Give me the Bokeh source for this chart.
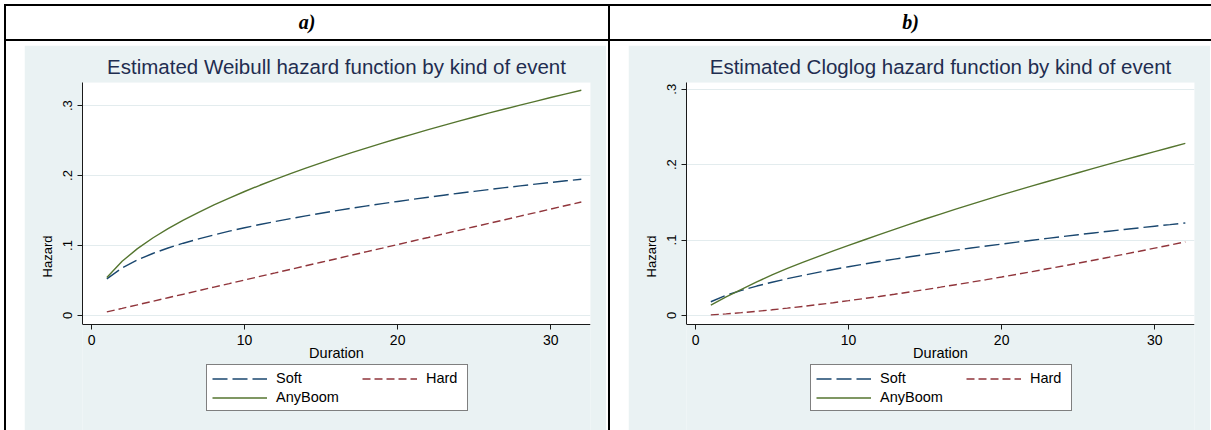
from bokeh.plotting import figure
from bokeh.models import Div, Legend, LegendItem, FixedTicker, Range1d, BoxAnnotation
from bokeh.layouts import column, row
from bokeh.embed import file_html
from bokeh.resources import INLINE

# ---------------- data ----------------
duration = list(range(1, 33))

weibull_soft = [0.0524, 0.0681, 0.0795, 0.0886, 0.0964, 0.1033, 0.1095, 0.1152, 0.1205, 0.1254,
                0.1300, 0.1343, 0.1385, 0.1424, 0.1462, 0.1498, 0.1533, 0.1567, 0.1599, 0.1630,
                0.1661, 0.1690, 0.1719, 0.1747, 0.1774, 0.1801, 0.1827, 0.1852, 0.1877, 0.1901,
                0.1925, 0.1948]
weibull_hard = [0.0051, 0.0101, 0.0152, 0.0203, 0.0254, 0.0304, 0.0355, 0.0406, 0.0456, 0.0507,
                0.0558, 0.0608, 0.0659, 0.0710, 0.0761, 0.0811, 0.0862, 0.0913, 0.0963, 0.1014,
                0.1065, 0.1115, 0.1166, 0.1217, 0.1268, 0.1318, 0.1369, 0.1420, 0.1470, 0.1521,
                0.1572, 0.1622]
weibull_anyboom = [0.0543, 0.0775, 0.0955, 0.1107, 0.1241, 0.1363, 0.1475, 0.1580, 0.1678, 0.1772,
                   0.1861, 0.1946, 0.2027, 0.2106, 0.2182, 0.2256, 0.2327, 0.2396, 0.2464, 0.2530,
                   0.2593, 0.2656, 0.2718, 0.2778, 0.2837, 0.2895, 0.2951, 0.3006, 0.3061, 0.3115,
                   0.3168, 0.3220]

cloglog_soft = [0.0182, 0.0267, 0.0333, 0.0390, 0.0441, 0.0488, 0.0531, 0.0572, 0.0610, 0.0646,
                0.0681, 0.0715, 0.0747, 0.0778, 0.0808, 0.0837, 0.0866, 0.0894, 0.0921, 0.0947,
                0.0973, 0.0998, 0.1023, 0.1047, 0.1071, 0.1094, 0.1117, 0.1140, 0.1162, 0.1184,
                0.1205, 0.1227]
cloglog_hard = [0.0008, 0.0021, 0.0037, 0.0055, 0.0075, 0.0097, 0.0120, 0.0144, 0.0169, 0.0196,
                0.0224, 0.0252, 0.0281, 0.0312, 0.0343, 0.0375, 0.0408, 0.0441, 0.0475, 0.0510,
                0.0546, 0.0582, 0.0619, 0.0656, 0.0694, 0.0733, 0.0772, 0.0812, 0.0852, 0.0893,
                0.0934, 0.0976]
cloglog_anyboom = [0.0138, 0.0245, 0.0347, 0.0444, 0.0538, 0.0624, 0.0704, 0.0781, 0.0856, 0.0929,
                   0.1001, 0.1072, 0.1142, 0.1211, 0.1279, 0.1345, 0.1410, 0.1474, 0.1537, 0.1599,
                   0.1659, 0.1718, 0.1777, 0.1835, 0.1893, 0.1950, 0.2007, 0.2063, 0.2119, 0.2174,
                   0.2228, 0.2282]

x_ticks = [0, 10, 20, 30]
x_tick_labels = ["0", "10", "20", "30"]
y_ticks = [0, 0.1, 0.2, 0.3]
y_tick_labels = ["0", ".1", ".2", ".3"]

panel_headers = ["a)", "b)"]
panel_titles = ["Estimated Weibull hazard function by kind of event",
                "Estimated Cloglog hazard function by kind of event"]
series_names = ["Soft", "Hard", "AnyBoom"]

# ---------------- style ----------------
BG = "#EAF2F3"
C_SOFT = "#1A476F"
C_HARD = "#90353B"
C_ANY = "#55752F"
FONT = "Liberation Sans"

X_LO, X_HI = -0.59, 32.6
PLOT_H = 242       # pixel height of the white plotting region
BELOW_H = 106      # pixel space under it (axis, legend) inside the frame


def legend_common():
    return dict(glyph_width=55, glyph_height=15, label_height=15, label_standoff=9,
                spacing=3, padding=5, margin=0,
                label_text_font=FONT, label_text_font_size="14.5px",
                label_text_color="black")


def make_panel(title, soft, hard, anyboom, y_lo, y_hi, right_margin):
    per_px = (y_hi - y_lo) / PLOT_H
    y_floor = y_lo - BELOW_H * per_px
    p = figure(width=582, height=385, output_backend="svg", toolbar_location=None,
               x_range=Range1d(X_LO, X_HI), y_range=Range1d(y_floor, y_hi),
               min_border_left=58, min_border_right=16, min_border_top=37,
               min_border_bottom=0, border_fill_color=BG, background_fill_color=BG,
               outline_line_color=None, margin=(4, right_margin, 0, 18), title=title)
    p.title.text_font = FONT
    p.title.text_font_size = "20.5px"
    p.title.text_font_style = "normal"
    p.title.text_color = "#1f2d50"
    p.title.align = "center"
    p.title.standoff = 9

    # white plotting region
    p.add_layout(BoxAnnotation(bottom=y_lo, top=y_hi, fill_color="white", fill_alpha=1,
                               line_color=None, level="image"))

    for ax in (p.xaxis, p.yaxis):
        ax.axis_line_color = "#1a1a1a"
        ax.major_tick_line_color = "#1a1a1a"
        ax.minor_tick_line_color = None
        ax.major_tick_out = 5
        ax.major_tick_in = 0
        ax.major_label_text_font = FONT
        ax.major_label_text_color = "black"
        ax.axis_label_text_font = FONT
        ax.axis_label_text_font_style = "normal"
        ax.axis_label_text_color = "black"

    p.xaxis.fixed_location = y_lo
    p.xaxis.ticker = FixedTicker(ticks=x_ticks)
    p.xaxis.major_label_overrides = dict(zip(x_ticks, x_tick_labels))
    p.xaxis.major_label_text_font_size = "14px"
    p.xaxis.axis_label = "Duration"
    p.xaxis.axis_label_text_font_size = "14.5px"
    p.xaxis.axis_label_standoff = -3

    p.yaxis.bounds = (y_lo, y_hi)
    p.yaxis.ticker = FixedTicker(ticks=y_ticks)
    p.yaxis.major_label_overrides = dict(zip(y_ticks, y_tick_labels))
    p.yaxis.major_label_orientation = "vertical"
    p.yaxis.major_label_text_font_size = "13px"
    p.yaxis.axis_label = "Hazard"
    p.yaxis.axis_label_text_font_size = "13px"
    p.yaxis.axis_label_standoff = 6

    p.xgrid.visible = False
    p.ygrid.ticker = FixedTicker(ticks=y_ticks)
    p.ygrid.grid_line_color = "#E3ECEE"
    p.ygrid.grid_line_width = 1

    r_soft = p.line(duration, soft, line_color=C_SOFT, line_width=1.4, line_dash="15 5")
    r_hard = p.line(duration, hard, line_color=C_HARD, line_width=1.4, line_dash="8 4")
    r_any = p.line(duration, anyboom, line_color=C_ANY, line_width=1.4)

    # boxed legend: first column (Soft, AnyBoom) carries the frame of the whole key
    leg_left = Legend(items=[LegendItem(label=series_names[0], renderers=[r_soft]),
                             LegendItem(label=series_names[2], renderers=[r_any])],
                      location=(124, 19), orientation="vertical", label_width=186,
                      border_line_color="black", border_line_width=1,
                      background_fill_color="white", background_fill_alpha=1,
                      **legend_common())
    # second column (Hard) sits on the first row inside the same frame
    leg_right = Legend(items=[LegendItem(label=series_names[1], renderers=[r_hard])],
                       location=(280, 44), orientation="vertical",
                       border_line_color=None, background_fill_alpha=0,
                       **legend_common())
    p.add_layout(leg_left, "center")
    p.add_layout(leg_right, "center")
    return p


pa = make_panel(panel_titles[0], weibull_soft, weibull_hard, weibull_anyboom, -0.0129, 0.333, 2)
pb = make_panel(panel_titles[1], cloglog_soft, cloglog_hard, cloglog_anyboom, -0.012, 0.309, 1)


def bar(w, h, color="black"):
    styles = {"background-color": color} if color else {}
    return Div(text="", width=w, height=h, margin=0, styles=styles)


def header(txt, w):
    html = ('<div style="width:' + str(w) + 'px;text-align:center;font-family:\'Liberation Serif\';'
            'font-weight:bold;font-style:italic;font-size:20px;line-height:33px;color:black">'
            + txt + '</div>')
    return Div(text=html, width=w, height=33, margin=0)


layout = column(
    bar(1211, 4, None),
    row(bar(4, 2, None), bar(1207, 2)),
    row(bar(4, 33, None), bar(2, 33), header(panel_headers[0], 602), bar(2, 33),
        header(panel_headers[1], 601)),
    row(bar(4, 2, None), bar(1207, 2)),
    row(bar(4, 389, None), bar(2, 389), pa, bar(2, 389), pb),
)

open("out.html", "w").write(file_html(layout, INLINE))
